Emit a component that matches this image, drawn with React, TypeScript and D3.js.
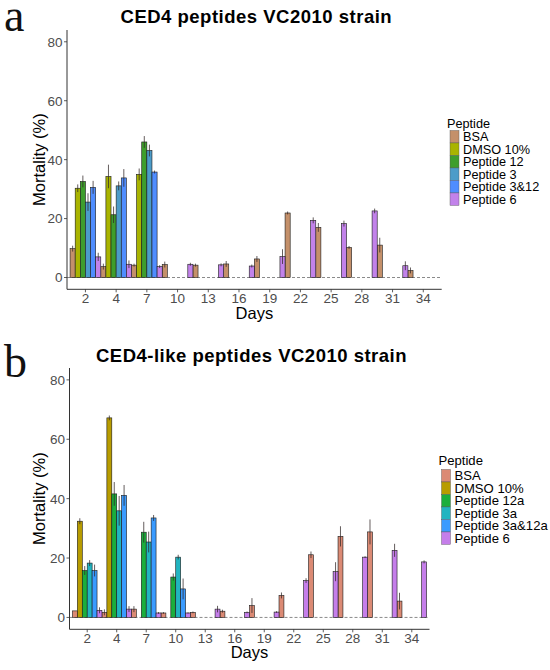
import React from "react";
import * as d3 from "d3";

const days = ["2", "4", "7", "10", "13", "16", "19", "22", "25", "28", "31", "34"];
const yTicks = [0, 20, 40, 60, 80];

// Panel a: CED4 peptides
const aNames = ["BSA", "DMSO 10%", "Peptide 12", "Peptide 3", "Peptide 3&12", "Peptide 6"];
const aColors = ["#C4906A", "#A9B400", "#3E9E2C", "#4C9CC9", "#4F8DFF", "#C282EA"];
const aBSA = [9.8, 3.7, 4.2, 4.4, 4.2, 4.6, 6.3, 21.9, 17.0, 10.2, 11.0, 2.4];
const aDMSO = [30.3, 34.3, 35.0, null, null, null, null, null, null, null, null, null];
const aP12 = [32.6, 21.3, 46.0, null, null, null, null, null, null, null, null, null];
const aP3 = [25.6, 31.1, 43.1, null, null, null, null, null, null, null, null, null];
const aP312 = [30.6, 33.8, 35.8, null, null, null, null, null, null, null, null, null];
const aP6 = [7.0, 4.5, 3.7, 4.5, 4.3, 3.9, 7.1, 19.4, 18.3, 22.6, 4.0, null];
const aBSAerr = [1, 1, 0.5, 1, 0.5, 1, 1, 0.5, 1.5, 0.5, 2.5, 1];
const aDMSOerr = [1.3, 4, 2, 0, 0, 0, 0, 0, 0, 0, 0, 0];
const aP12err = [2, 2.8, 2, 0, 0, 0, 0, 0, 0, 0, 0, 0];
const aP3err = [3, 1.5, 2, 0, 0, 0, 0, 0, 0, 0, 0, 0];
const aP312err = [2.2, 3, 0.5, 0, 0, 0, 0, 0, 0, 0, 0, 0];
const aP6err = [1.4, 1.3, 0.5, 0.5, 0.5, 0.5, 2.5, 1, 1, 0.8, 1.5, 0];

// Panel b: CED4-like peptides
const bNames = ["BSA", "DMSO 10%", "Peptide 12a", "Peptide 3a", "Peptide 3a&12a", "Peptide 6"];
const bColors = ["#DB8A74", "#B89C00", "#1BAE3C", "#21B4C0", "#3A9BFF", "#C57EEA"];
const bBSA = [2.2, 1.7, 2.8, 1.5, 1.7, 2.1, 4.0, 7.4, 21.1, 27.3, 28.8, 5.5];
const bDMSO = [32.4, 67.2, null, null, null, null, null, null, null, null, null, null];
const bP12a = [15.8, 41.6, 28.7, 13.6, null, null, null, null, null, null, null, null];
const bP3a = [18.3, 35.9, 25.4, 20.3, null, null, null, null, null, null, null, null];
const bP3a12a = [15.8, 41.1, 33.5, 9.6, null, null, null, null, null, null, null, null];
const bP6 = [2.4, 2.8, 1.5, 1.5, 2.8, 1.7, 1.8, 12.4, 15.4, 20.3, 22.6, 18.7];
const bBSAerr = [0, 1, 1, 0.3, 0.3, 0.5, 2.5, 1, 1.1, 3.4, 4.2, 2.8];
const bDMSOerr = [1, 0.8, 0, 0, 0, 0, 0, 0, 0, 0, 0, 0];
const bP12aerr = [1.5, 4, 3.5, 1.2, 0, 0, 0, 0, 0, 0, 0, 0];
const bP3aerr = [1, 5, 3.5, 0.8, 0, 0, 0, 0, 0, 0, 0, 0];
const bP3a12aerr = [2, 3.5, 1, 3.5, 0, 0, 0, 0, 0, 0, 0, 0];
const bP6err = [1, 1, 0.3, 0.2, 1.1, 0.3, 0.3, 0.8, 3.2, 0.3, 2.2, 0.5];

const FONT = "'Liberation Sans', Arial, Helvetica, sans-serif";

type PanelProps = {
  letter: string;
  letterY: number;
  title: string;
  titleY: number;
  names: string[];
  colors: string[];
  values: (number | null)[][];
  errors: number[][];
  left: number;
  right: number;
  top: number;
  bottom: number;
  daysY: number;
  legX: number;
  legTitleY: number;
  legRow0: number;
  legRowH: number;
  legFont: number;
};

function Panel(p: PanelProps) {
  const x = d3.scaleBand<string>().domain(days).range([p.left, p.right]).paddingInner(0).paddingOuter(0.1);
  const inner = d3.scaleBand<string>().domain(p.names).range([0, x.bandwidth()]).padding(0);
  const y = d3.scaleLinear().domain([-4, 84]).range([p.bottom, p.top]);
  const midY = (y(0) + y(80)) / 2;
  return (
    <g>
      <text x={4} y={p.letterY} fontFamily="'Liberation Serif', 'Times New Roman', serif" fontSize={46} fill="#111">
        {p.letter}
      </text>
      <text x={(p.left + p.right) / 2 + 2} y={p.titleY} textAnchor="middle" fontFamily={FONT} fontWeight="bold" fontSize={18.5} letterSpacing={0.5} fill="#000">
        {p.title}
      </text>
      {/* dashed zero line */}
      <line x1={p.left} x2={p.right} y1={y(0)} y2={y(0)} stroke="#8a8a8a" strokeWidth={1} strokeDasharray="3,2" />
      {/* bars */}
      {p.values.map((series, si) =>
        series.map((v, di) => {
          if (v === null || v === undefined) return null;
          const bx = (x(days[di]) as number) + (inner(p.names[si]) as number);
          const bw = inner.bandwidth();
          return (
            <rect
              key={`b${si}-${di}`}
              x={bx}
              y={y(v)}
              width={bw}
              height={y(0) - y(v)}
              fill={p.colors[si]}
              stroke="#1a1a1a"
              strokeWidth={0.6}
            />
          );
        })
      )}
      {/* error bars */}
      {p.values.map((series, si) =>
        series.map((v, di) => {
          if (v === null || v === undefined) return null;
          const e = p.errors[si][di] || 0;
          if (e <= 0) return null;
          const cx = (x(days[di]) as number) + (inner(p.names[si]) as number) + inner.bandwidth() / 2;
          return (
            <line
              key={`e${si}-${di}`}
              x1={cx}
              x2={cx}
              y1={y(v - e)}
              y2={y(v + e)}
              stroke="rgba(50,40,40,0.75)"
              strokeWidth={1}
            />
          );
        })
      )}
      {/* axes */}
      <line x1={p.left} x2={p.left} y1={p.top} y2={p.bottom} stroke="#333" strokeWidth={1} />
      <line x1={p.left} x2={p.right} y1={p.bottom} y2={p.bottom} stroke="#333" strokeWidth={1} />
      {yTicks.map((t) => (
        <g key={`yt${t}`}>
          <line x1={p.left - 3} x2={p.left} y1={y(t)} y2={y(t)} stroke="#333" strokeWidth={0.8} />
          <text x={p.left - 4.5} y={y(t)} dy="0.36em" textAnchor="end" fontFamily={FONT} fontSize={13.5} fill="#4d4d4d">
            {t}
          </text>
        </g>
      ))}
      {days.map((d) => {
        const cx = (x(d) as number) + x.bandwidth() / 2;
        return (
          <g key={`xt${d}`}>
            <line x1={cx} x2={cx} y1={p.bottom} y2={p.bottom + 3} stroke="#333" strokeWidth={0.8} />
            <text x={cx} y={p.bottom + 13.8} textAnchor="middle" fontFamily={FONT} fontSize={13.5} fill="#4d4d4d">
              {d}
            </text>
          </g>
        );
      })}
      <text x={(p.left + p.right) / 2} y={p.daysY} textAnchor="middle" fontFamily={FONT} fontSize={16.5} fill="#000">
        Days
      </text>
      <text
        transform={`translate(45,${midY}) rotate(-90)`}
        textAnchor="middle"
        fontFamily={FONT}
        fontSize={16.5}
        fill="#000"
      >
        Mortality (%)
      </text>
      {/* legend */}
      <text x={p.legX} y={p.legTitleY} fontFamily={FONT} fontSize={p.legFont} fill="#000">
        Peptide
      </text>
      {p.names.map((n, i) => {
        const cy = p.legRow0 + i * p.legRowH;
        return (
          <g key={`lg${i}`}>
            <rect
              x={p.legX + 3}
              y={cy - p.legRowH / 2}
              width={9}
              height={p.legRowH}
              fill={p.colors[i]}
              stroke="#555"
              strokeWidth={0.4}
            />
            <text x={p.legX + 16} y={cy} dy="0.36em" fontFamily={FONT} fontSize={p.legFont} fill="#000">
              {n}
            </text>
          </g>
        );
      })}
    </g>
  );
}

export default function App() {
  return (
    <svg width={550} height={670} style={{ position: "absolute", left: 0, top: 0, background: "#fff" }}>
      <rect width={550} height={670} fill="#fff" />
      <Panel
        letter="a"
        letterY={31}
        title="CED4 peptides VC2010 strain"
        titleY={22.7}
        names={aNames}
        colors={aColors}
        values={[aBSA, aDMSO, aP12, aP3, aP312, aP6]}
        errors={[aBSAerr, aDMSOerr, aP12err, aP3err, aP312err, aP6err]}
        left={67}
        right={441.7}
        top={30}
        bottom={289.3}
        daysY={318.5}
        legX={447}
        legTitleY={127.5}
        legRow0={136.7}
        legRowH={12.5}
        legFont={12.7}
      />
      <Panel
        letter="b"
        letterY={377}
        title="CED4-like peptides VC2010 strain"
        titleY={361.7}
        names={bNames}
        colors={bColors}
        values={[bBSA, bDMSO, bP12a, bP3a, bP3a12a, bP6]}
        errors={[bBSAerr, bDMSOerr, bP12aerr, bP3aerr, bP3a12aerr, bP6err]}
        left={69.5}
        right={429.5}
        top={368}
        bottom={629.3}
        daysY={658}
        legX={438.5}
        legTitleY={464.5}
        legRow0={475.7}
        legRowH={12.5}
        legFont={13.1}
      />
    </svg>
  );
}
